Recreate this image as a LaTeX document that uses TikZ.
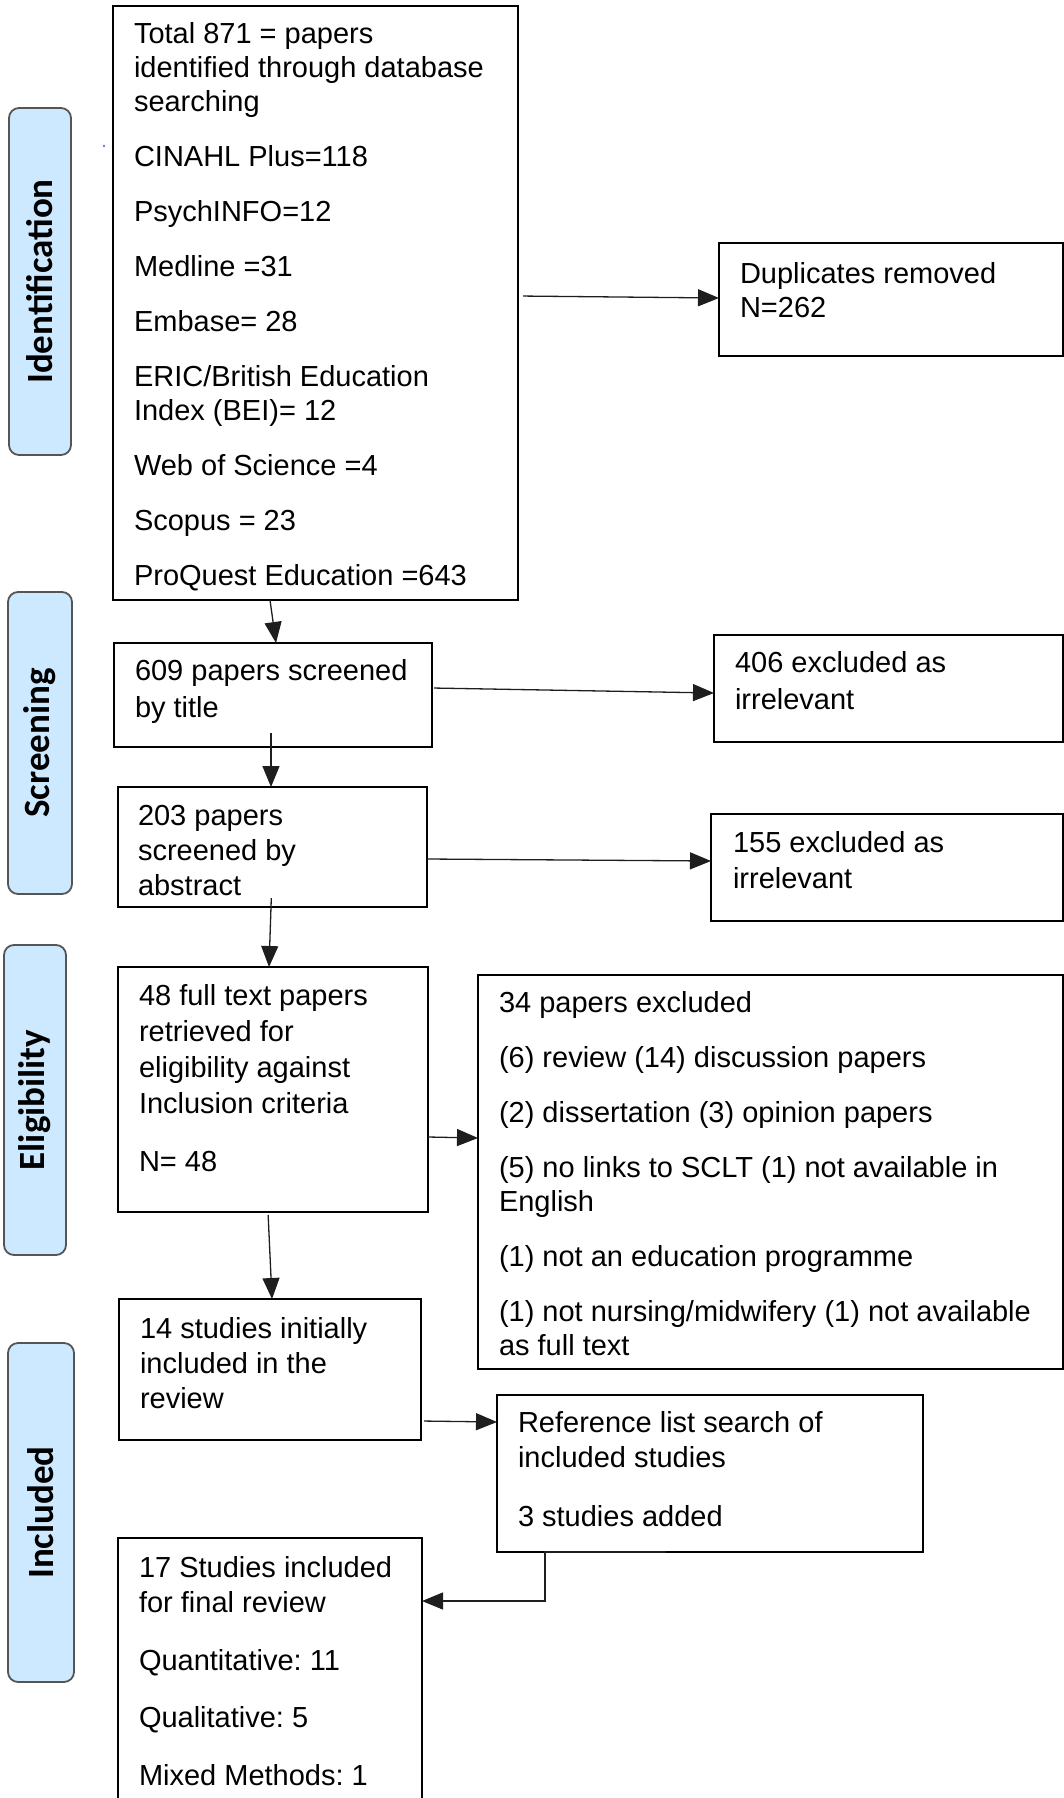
\documentclass[tikz,border=0pt]{standalone}
\usepackage{fontspec}
\setmainfont{Liberation Sans}
\newfontfamily\lblfont{Carlito}
\usetikzlibrary{arrows.meta}
\definecolor{lblfill}{RGB}{204,233,255}
\definecolor{lbldraw}{RGB}{85,85,85}
\definecolor{arrcol}{RGB}{30,30,30}
\newcommand\firststrut{\rule{0pt}{24pt}}
\frenchspacing
\begin{document}
\frenchspacing
\begin{tikzpicture}[x=1pt,y=-1pt,
  box/.style={draw=black, line width=1.6pt, inner sep=0pt, outer sep=0pt, anchor=north west},
  txt/.style={anchor=north west, inner sep=0pt, outer sep=0pt, align=left, font=\fontsize{29}{#1}\selectfont\frenchspacing},
  txt/.default=34,
  lbl/.style={draw=lbldraw, fill=lblfill, line width=1.8pt, rounded corners=10pt, rotate=90, inner sep=0pt, font=\lblfont\bfseries\fontsize{37}{42}\selectfont},
  arr/.style={draw=arrcol, line width=1.3pt, -{Triangle[length=21pt,width=17pt]}}]
\useasboundingbox (0,0) rectangle (1064,1798);
\clip (0,0) rectangle (1064,1798);
% stage labels
\node[lbl, minimum width=347pt, minimum height=62pt] (Lid) at (40,281.5) {Identification};
\node[lbl, minimum width=302pt, minimum height=64pt] (Lsc) at (40,743) {Screening};
\node[lbl, minimum width=310pt, minimum height=62pt] (Lel) at (35,1100) {Eligibility};
\node[lbl, minimum width=339pt, minimum height=66pt] (Lin) at (41,1512.5) {Included};
\fill[blue!55] (103,145) rectangle (105,147);
% boxes
\node[box, minimum width=405pt, minimum height=594pt] (T) at (113,6) {};
\node[box, minimum width=344pt, minimum height=113pt] (Dup) at (719,243) {};
\node[box, minimum width=318pt, minimum height=104pt] (S1) at (114,643) {};
\node[box, minimum width=349pt, minimum height=107pt] (X1) at (714,635) {};
\node[box, minimum width=309pt, minimum height=120pt] (S2) at (118,787) {};
\node[box, minimum width=352pt, minimum height=107pt] (X2) at (711,814) {};
\node[box, minimum width=310pt, minimum height=245pt] (E1) at (118,967) {};
\node[box, minimum width=585pt, minimum height=394pt] (X3) at (478,975) {};
\node[box, minimum width=302pt, minimum height=141pt] (E2) at (119,1299) {};
\node[box, minimum width=426pt, minimum height=157pt] (Ref) at (497,1395) {};
\node[box, minimum width=304pt, minimum height=290pt] (F) at (118,1538) {};
% texts
\node[txt=34] (Tt) at (134,19) {\firststrut Total 871 = papers\\identified through database\\searching\\[21pt]CINAHL Plus=118\\[21pt]PsychINFO=12\\[21pt]Medline =31\\[21pt]Embase= 28\\[21pt]ERIC/British Education\\Index (BEI)= 12\\[21pt]Web of Science =4\\[21pt]Scopus = 23\\[21pt]ProQuest Education =643};
\node[txt=34] (Dupt) at (740,259) {\firststrut Duplicates removed\\N=262};
\node[txt=37] (S1t) at (135,656) {\firststrut 609 papers screened\\by title};
\node[txt=37] (X1t) at (735,648) {\firststrut 406 excluded as\\irrelevant};
\node[txt=35] (S2t) at (138,801) {\firststrut 203 papers\\screened by\\abstract};
\node[txt=36] (X2t) at (733,828) {\firststrut 155 excluded as\\irrelevant};
\node[txt=36] (E1t) at (139,981) {\firststrut 48 full text papers\\retrieved for\\eligibility against\\Inclusion criteria\\[22pt]N= 48};
\node[txt=34] (X3t) at (499,988) {\firststrut 34 papers excluded\\[21pt](6) review (14) discussion papers\\[21pt](2) dissertation (3) opinion papers\\[21pt](5) no links to SCLT (1) not available in\\English\\[21pt](1) not an education programme\\[21pt](1) not nursing/midwifery (1) not available\\as full text};
\node[txt=35] (E2t) at (140,1314) {\firststrut 14 studies initially\\included in the\\review};
\node[txt=35] (Reft) at (518,1408) {\firststrut Reference list search of\\included studies\\[24pt]3 studies added};
\node[txt=35] (Ft) at (139,1553) {\firststrut 17 Studies included\\for final review\\[23pt]Quantitative: 11\\[22pt]Qualitative: 5\\[23pt]Mixed Methods: 1};
% connectors
\draw[arr, shorten <=5pt] (T.east |- 0,296) -- (Dup.west |- 0,298);
\draw[arr] (T.south -| 270,0) -- (S1.north -| 276,0);
\draw[arr, shorten <=2pt] (S1.east |- 0,688) -- (X1.west |- 0,693);
\draw[arr, shorten <=-14pt] (S1.south -| 271,0) -- (S2.north -| 271,0);
\draw[arr] (S2.east |- 0,859) -- (X2.west |- 0,861);
\draw[arr, shorten <=-9pt] (S2.south -| 271,0) -- (E1.north -| 269,0);
\draw[arr] (E1.east |- 0,1137) -- (X3.west |- 0,1138);
\draw[arr, shorten <=3pt] (E1.south -| 268,0) -- (E2.north -| 272,0);
\draw[arr, shorten <=3pt] (E2.east |- 0,1421) -- (Ref.west |- 0,1422);
\draw[arr] (Ref.south -| 666,0) -- (Ref.south -| 545,0) |- (F.east |- 0,1601);
\end{tikzpicture}
\end{document}
